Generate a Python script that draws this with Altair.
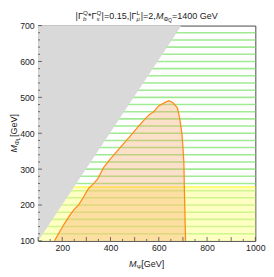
import altair as alt
import pandas as pd

# ---------------- data ----------------
x_label_values = [200, 400, 600, 800, 1000]
y_label_values = [100, 200, 300, 400, 500, 600, 700]
x_major_ticks = [100, 200, 300, 400, 500, 600, 700, 800, 900, 1000]
x_minor_ticks = [150, 250, 350, 450, 550, 650, 750, 850, 950]
y_major_ticks = [100, 200, 300, 400, 500, 600, 700]
y_minor_ticks = [120, 140, 160, 180, 220, 240, 260, 280, 320, 340, 360, 380,
                 420, 440, 460, 480, 520, 540, 560, 580, 620, 640, 660, 680]

hatch_y = [120, 140, 160, 180, 200, 220, 240, 260, 280, 300, 320, 340, 360,
           380, 400, 420, 440, 460, 480, 500, 520, 540, 560, 580, 600, 620,
           640, 660, 680]

yellow_x = [100, 1000]
yellow_top = 250

orange_x = [168, 188, 208, 229, 249, 269, 289, 309, 329, 347, 372, 398, 439,
            479, 519, 559, 579, 599, 626, 642, 659, 677, 686, 696, 700, 704,
            706, 711]
orange_y = [100, 124, 147, 169, 187, 201, 223, 246, 259, 273, 305, 327, 359,
            390, 422, 451, 460, 476, 486, 491, 485, 471, 444, 399, 363, 318,
            246, 100]

gray_x = [100, 694]
gray_y = [100, 700]

W, H = 224, 222
sx = alt.Scale(domain=[100, 1000], nice=False, zero=False)
sy = alt.Scale(domain=[100, 700], nice=False, zero=False)
FONT = "Liberation Sans"

ax_x = alt.Axis(values=x_label_values, ticks=False, domain=False, grid=False,
                title=None, labelFontSize=9, labelColor="#222", labelFont=FONT,
                labelPadding=3, labelFlush=False, format="d")
ax_y = alt.Axis(values=y_label_values, ticks=False, domain=False, grid=False,
                title=None, labelFontSize=9, labelColor="#222", labelFont=FONT,
                labelPadding=4, labelFlush=False, format="d")

def X(f):
    return alt.X(f, type="quantitative", scale=sx, axis=ax_x)

def Y(f):
    return alt.Y(f, type="quantitative", scale=sy, axis=ax_y, stack=None)

hatch_df = pd.DataFrame({"y": hatch_y, "x0": yellow_x[0], "x1": yellow_x[1]})
hatch = alt.Chart(hatch_df).mark_rule(color="#9fea92", strokeWidth=1.6).encode(
    x=X("x0"), x2=alt.X2("x1"), y=Y("y"))

yel_df = pd.DataFrame({"x0": [yellow_x[0]], "x1": [yellow_x[1]],
                       "y0": [100], "y1": [yellow_top]})
yellow = alt.Chart(yel_df).mark_rect(color="#ffff88", opacity=0.5).encode(
    x=X("x0"), x2=alt.X2("x1"), y=Y("y0"), y2=alt.Y2("y1"))
yellow_edge = alt.Chart(yel_df).mark_rule(color="#ffff55", strokeWidth=1.5).encode(
    x=X("x0"), x2=alt.X2("x1"), y=Y("y1"))

or_df = pd.DataFrame({"x": orange_x, "y": orange_y, "b": [100] * len(orange_x)})
orange_fill = alt.Chart(or_df).mark_area(
    fill="#f9a05a", fillOpacity=0.32, stroke=None, interpolate="linear"
).encode(x=X("x"), y=Y("y"), y2=alt.Y2("b"))
orange_line = alt.Chart(or_df).mark_line(color="#ff8c1a", strokeWidth=1.3).encode(
    x=X("x"), y=Y("y"))

gr_df = pd.DataFrame({"x": gray_x, "y": gray_y, "t": [700, 700]})
gray = alt.Chart(gr_df).mark_area(fill="#d9d9d9", fillOpacity=1).encode(
    x=X("x"), y=Y("y"), y2=alt.Y2("t"))

tk = "#444"
ytick_major = alt.Chart(pd.DataFrame({"v": y_major_ticks})).mark_rule(
    color=tk, strokeWidth=0.8).encode(y=Y("v"), x=alt.value(0), x2=alt.value(4))
ytick_minor = alt.Chart(pd.DataFrame({"v": y_minor_ticks})).mark_rule(
    color=tk, strokeWidth=0.8).encode(y=Y("v"), x=alt.value(0), x2=alt.value(2))
xtick_major = alt.Chart(pd.DataFrame({"v": x_major_ticks})).mark_rule(
    color=tk, strokeWidth=0.8).encode(x=X("v"), y=alt.value(H), y2=alt.value(H - 4))
xtick_minor = alt.Chart(pd.DataFrame({"v": x_minor_ticks})).mark_rule(
    color=tk, strokeWidth=0.8).encode(x=X("v"), y=alt.value(H), y2=alt.value(H - 2))

# ---------------- composed texts (sub/superscripts) ----------------
EM = {'|': .26, 'Γ': .556, '*': .389, '=': .584, '.': .278, ',': .278, ' ': .278,
      'M': .833, 'G': .778, 'e': .556, 'V': .667, 'Q': .722, 'b': .556, 's': .5,
      'L': .556, 'μ': .576, 'Φ': .778, 'Ψ': .76, '[': .278, ']': .278}

def tw(s, size):
    return sum(EM.get(c, .556) for c in s) * size

dummy = pd.DataFrame({"a": [0]})

def piece(text, x, y, size, italic=False, angle=0):
    kw = dict(text=text, font=FONT, fontSize=size, align="left",
              baseline="alphabetic", color="#222")
    if italic:
        kw["fontStyle"] = "italic"
    if angle:
        kw["angle"] = angle
    return alt.Chart(dummy).mark_text(**kw).encode(x=alt.value(x), y=alt.value(y))

F, S, SS = 9.3, 6.4, 4.8
# title: |Γ_b^Q*Γ_s^Q|=0.15,|Γ_μ^L|=2,M_{Φ_Q}=1400 GeV
segs = [("|Γ", "main"), (("Q", "b"), "stack"), ("*Γ", "main"), (("Q", "s"), "stack"),
        ("|=0.15,|Γ", "main"), (("L", "μ"), "stack"), ("|=2,", "main"),
        ("M", "ital"), ("Φ", "sub"), ("Q", "subsub"), ("=1400 GeV", "main")]

def seg_w(s, kind):
    if kind == "stack":
        return max(tw(s[0], S), tw(s[1], S)) + 0.6
    if kind == "sub":
        return tw(s, S)
    if kind == "subsub":
        return tw(s, SS) + 0.4
    return tw(s, F)

total = sum(seg_w(s, k) for s, k in segs)
cx = W / 2
base = -7
cur = cx - total / 2
title_layers = []
for s, k in segs:
    if k == "stack":
        title_layers.append(piece(s[0], cur, base - 4, S))
        title_layers.append(piece(s[1], cur, base + 2.2, S, italic=True))
    elif k == "sub":
        title_layers.append(piece(s, cur, base + 2, S))
    elif k == "subsub":
        title_layers.append(piece(s, cur, base + 3.6, SS))
    elif k == "ital":
        title_layers.append(piece(s, cur, base, F, italic=True))
    else:
        title_layers.append(piece(s, cur, base, F))
    cur += seg_w(s, k)

# x title: M_Ψ[GeV]
xs_segs = [("M", F, 0, True), ("Ψ", S, 2, False), ("[GeV]", F, 0, False)]
xt_total = sum(tw(s, z) for s, z, _, _ in xs_segs)
cur = cx - xt_total / 2
xbase = H + 27
xtitle_layers = []
for s, z, off, it in xs_segs:
    xtitle_layers.append(piece(s, cur, xbase + off, z, italic=it))
    cur += tw(s, z)

# y title (rotated): M_{Φ_L}[GeV]
ys_segs = [("M", F, 0, True), ("Φ", S, 2, False), ("L", SS, 3.6, False),
           ("[GeV]", F, 0, False)]
yt_total = sum(tw(s, z) for s, z, _, _ in ys_segs) + 0.5
cur = H / 2 + yt_total / 2
ybase = -22
ytitle_layers = []
for s, z, off, it in ys_segs:
    ytitle_layers.append(piece(s, ybase + off, cur, z, italic=it, angle=270))
    cur -= tw(s, z) + (0.5 if s == "L" else 0)

chart = alt.layer(
    hatch, yellow, yellow_edge, orange_fill, gray, orange_line,
    ytick_major, ytick_minor, xtick_major, xtick_minor,
    *title_layers, *xtitle_layers, *ytitle_layers
).properties(
    width=W, height=H,
    padding={"left": 31, "top": 14, "right": 11, "bottom": 30},
    autosize=alt.AutoSizeParams(type="none"),
).configure_view(stroke="#444", strokeWidth=1)

chart.save("out.html", embed_options={"renderer": "svg", "actions": False})
